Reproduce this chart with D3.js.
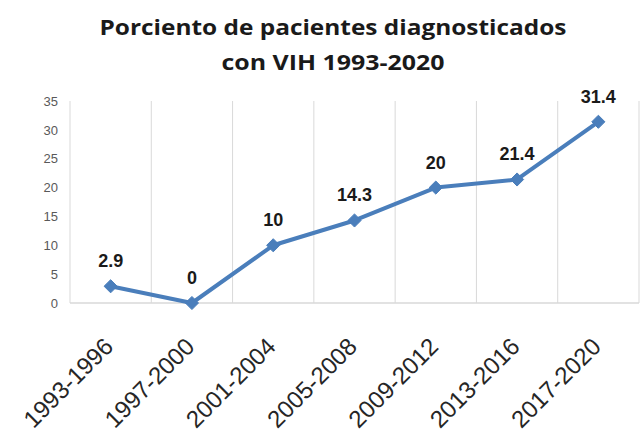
<!DOCTYPE html>
<html>
<head>
<meta charset="utf-8">
<script src="https://cdn.jsdelivr.net/npm/d3@7"></script>
<style>
  body { margin: 0; background: #fff; }
  svg { display: block; }
</style>
</head>
<body>
<div id="chart"></div>
<script>
// data
var periods = ["1993-1996", "1997-2000", "2001-2004", "2005-2008", "2009-2012", "2013-2016", "2017-2020"];
var percents = [2.9, 0, 10, 14.3, 20, 21.4, 31.4];
var yTicks = [0, 5, 10, 15, 20, 25, 30, 35];
var titleLines = ["Porciento de pacientes diagnosticados", "con VIH 1993-2020"];

var width = 640, height = 432;
var margin = { top: 101, right: 1, bottom: 129, left: 70 };
var plotW = width - margin.left - margin.right;
var plotH = height - margin.top - margin.bottom;

var svg = d3.select("#chart").append("svg")
  .attr("width", width)
  .attr("height", height);

// title
var titleLen = [467, 223];
svg.selectAll(".title")
  .data(titleLines)
  .enter()
  .append("text")
  .attr("class", "title")
  .attr("x", 333)
  .attr("y", function (d, i) { return 35 + i * 35; })
  .attr("text-anchor", "middle")
  .attr("textLength", function (d, i) { return titleLen[i]; })
  .attr("lengthAdjust", "spacingAndGlyphs")
  .style("font-family", "'Open Sans', sans-serif")
  .style("font-weight", "bold")
  .style("font-size", "22px")
  .style("fill", "#1a1a1a")
  .text(function (d) { return d; });

var g = svg.append("g")
  .attr("transform", "translate(" + margin.left + "," + margin.top + ")");

var x = d3.scaleBand().domain(periods).range([0, plotW]);
var y = d3.scaleLinear().domain([0, 35]).range([plotH, 0]);

// vertical gridlines at band edges
var edges = periods.map(function (p) { return x(p); });
edges.push(plotW);
g.selectAll(".vgrid")
  .data(edges)
  .enter()
  .append("line")
  .attr("x1", function (d) { return d; })
  .attr("x2", function (d) { return d; })
  .attr("y1", 0)
  .attr("y2", plotH)
  .style("stroke", "#d9d9d9")
  .style("stroke-width", 1);

// x axis line
g.append("line")
  .attr("x1", 0).attr("x2", plotW)
  .attr("y1", y(0)).attr("y2", y(0))
  .style("stroke", "#d9d9d9")
  .style("stroke-width", 1.5);

// y axis labels
var yAxis = g.append("g")
  .call(d3.axisLeft(y).tickValues(yTicks).tickSize(0).tickPadding(12));
yAxis.select(".domain").remove();
yAxis.selectAll("text")
  .style("font-family", "'Liberation Sans', Arial, sans-serif")
  .style("font-size", "13px")
  .style("fill", "#595959");

// x axis labels
var xAxis = g.append("g")
  .attr("transform", "translate(0," + plotH + ")")
  .call(d3.axisBottom(x).tickSize(0));
xAxis.select(".domain").remove();
xAxis.selectAll("text")
  .attr("text-anchor", "end")
  .attr("dy", null)
  .attr("y", 0)
  .attr("transform", "translate(4,45) rotate(-45)")
  .style("font-family", "'Liberation Sans', Arial, sans-serif")
  .style("font-size", "24px")
  .style("fill", "#262626");

// line
var line = d3.line()
  .x(function (d, i) { return x(periods[i]) + x.bandwidth() / 2; })
  .y(function (d) { return y(d); });

g.append("path")
  .datum(percents)
  .attr("d", line)
  .style("fill", "none")
  .style("stroke", "#4a7ebb")
  .style("stroke-width", 4)
  .style("stroke-linejoin", "round");

// diamond markers
var diamond = d3.symbol().type(d3.symbolDiamond2).size(110);
g.selectAll(".marker")
  .data(percents)
  .enter()
  .append("path")
  .attr("class", "marker")
  .attr("d", diamond)
  .attr("transform", function (d, i) {
    return "translate(" + (x(periods[i]) + x.bandwidth() / 2) + "," + y(d) + ")";
  })
  .style("fill", "#4a7ebb")
  .style("stroke", "#4a7ebb")
  .style("stroke-width", 1);

// data labels
g.selectAll(".dlabel")
  .data(percents)
  .enter()
  .append("text")
  .attr("class", "dlabel")
  .attr("x", function (d, i) { return x(periods[i]) + x.bandwidth() / 2; })
  .attr("y", function (d) { return y(d) - 19; })
  .attr("text-anchor", "middle")
  .style("font-family", "'Liberation Sans', Arial, sans-serif")
  .style("font-weight", "bold")
  .style("font-size", "18px")
  .style("fill", "#1a1a1a")
  .text(function (d) { return d; });
</script>
</body>
</html>
